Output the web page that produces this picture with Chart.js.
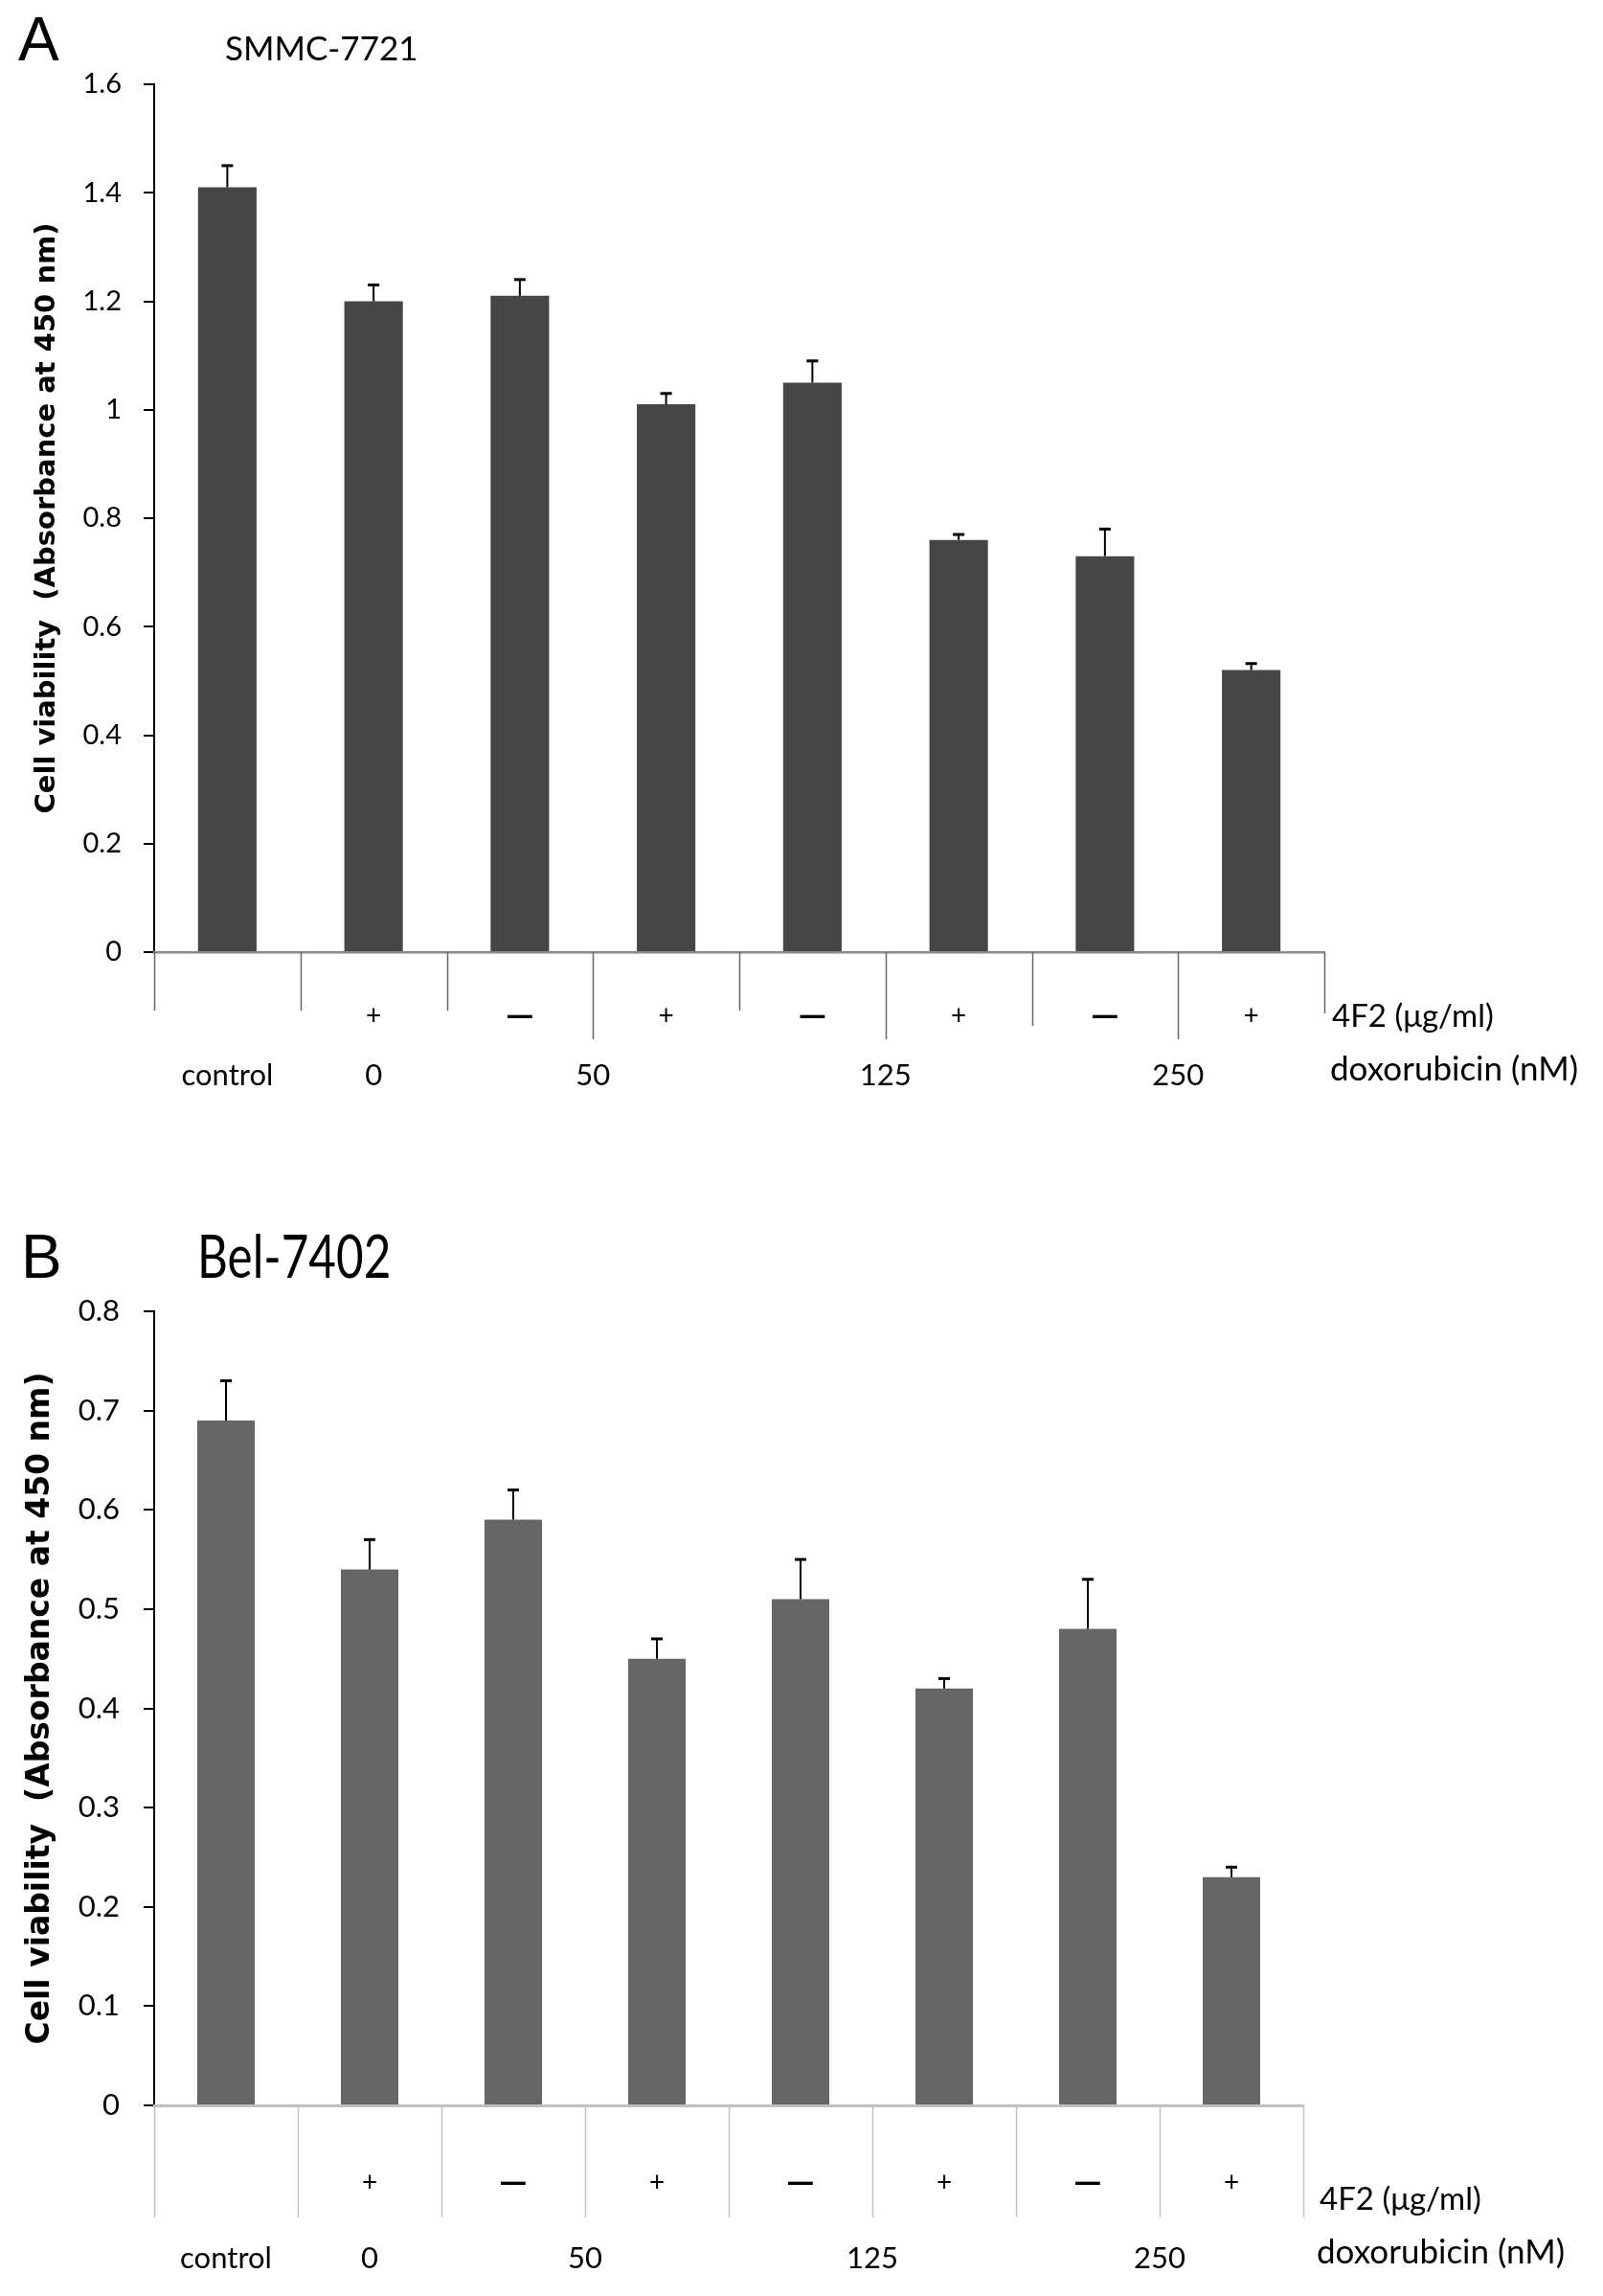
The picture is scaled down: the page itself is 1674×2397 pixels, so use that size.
<!DOCTYPE html>
<html>
<head>
<meta charset="utf-8">
<script src="https://cdn.jsdelivr.net/npm/chart.js@4.4.1/dist/chart.umd.min.js"></script>
<style>
  html, body { margin: 0; padding: 0; background: #fff; }
  body { width: 1674px; height: 2397px; position: relative; overflow: hidden; }
  .panel { position: absolute; left: 0; width: 1674px; }
  .panel canvas { position: absolute; left: 0; top: 0; }
  .txt { position: absolute; white-space: nowrap; line-height: 1; color: #000; }
  .letter { font-family: "Liberation Sans", Arial, sans-serif; font-size: 64px; }
  .lato { font-family: Lato, sans-serif; transform-origin: 0 0; }
</style>
</head>
<body>
<div class="panel" style="top:0;height:1200px">
  <canvas id="chartA" width="1674" height="1200" style="width:1674px;height:1200px"></canvas>
  <div class="txt letter" style="left:19px;top:9px">A</div>
  <div class="txt lato" style="left:235px;top:32px;font-size:35px">SMMC-7721</div>
  <div class="txt lato" style="left:1391px;top:1043px;font-size:33px">4F2 (μg/ml)</div>
  <div class="txt lato" style="left:1389px;top:1097px;font-size:35px">doxorubicin (nM)</div>
</div>
<div class="panel" style="top:1200px;height:1197px">
  <canvas id="chartB" width="1674" height="1197" style="width:1674px;height:1197px"></canvas>
  <div class="txt letter" style="left:22px;top:80px">B</div>
  <div class="txt lato" style="left:206px;top:80px;font-size:61px;transform:scaleX(0.81)">Bel-7402</div>
  <div class="txt lato" style="left:1378px;top:1078px;font-size:33px">4F2 (μg/ml)</div>
  <div class="txt lato" style="left:1375px;top:1132px;font-size:35px">doxorubicin (nM)</div>
</div>
<script>
// 4F2 treatment row and doxorubicin dose groups (category index spans)
const fourF2Signs = ['', '+', '—', '+', '—', '+', '—', '+'];
const doseLabels = ['control', '0', '50', '125', '250'];
const doseSpans = [[0, 0], [1, 1], [2, 3], [4, 5], [6, 7]];

// SMMC-7721 absorbance at 450 nm, mean and error
const smmcMeans = [1.41, 1.20, 1.21, 1.01, 1.05, 0.76, 0.73, 0.52];
const smmcErrors = [0.04, 0.03, 0.03, 0.02, 0.04, 0.01, 0.05, 0.012];
const smmcAxis = { max: 1.6, step: 0.2 };

// Bel-7402 absorbance at 450 nm, mean and error
const belMeans = [0.69, 0.54, 0.59, 0.45, 0.51, 0.42, 0.48, 0.23];
const belErrors = [0.04, 0.03, 0.03, 0.02, 0.04, 0.01, 0.05, 0.01];
const belAxis = { max: 0.8, step: 0.1 };

const yTitle = 'Cell viability  (Absorbance at 450 nm)';

const errorBarPlugin = {
  id: 'errorBars',
  afterDatasetsDraw(chart) {
    const { ctx } = chart;
    const y = chart.scales.y;
    chart.data.datasets.forEach((ds, di) => {
      chart.getDatasetMeta(di).data.forEach((bar, i) => {
        const top = y.getPixelForValue(ds.data[i] + ds.errors[i]);
        ctx.save();
        ctx.strokeStyle = '#000';
        ctx.lineWidth = 2;
        ctx.beginPath();
        ctx.moveTo(bar.x, bar.y);
        ctx.lineTo(bar.x, top);
        ctx.stroke();
        ctx.lineWidth = 3;
        ctx.beginPath();
        ctx.moveTo(bar.x - 6, top);
        ctx.lineTo(bar.x + 6, top);
        ctx.stroke();
        ctx.restore();
      });
    });
  }
};

// vertical separators under the category axis
const separatorPlugin = {
  id: 'separators',
  afterDraw(chart, args, opts) {
    const { ctx, chartArea } = chart;
    const x = chart.scales.x;
    const n = chart.data.labels.length;
    ctx.save();
    ctx.strokeStyle = opts.color;
    ctx.lineWidth = opts.width;
    for (let i = 0; i <= n; i++) {
      const px = Math.round(x.getPixelForValue(i - 0.5)) + 0.5;
      const len = Array.isArray(opts.lengths) ? opts.lengths[i] : opts.lengths;
      ctx.beginPath();
      ctx.moveTo(px, chartArea.bottom);
      ctx.lineTo(px, chartArea.bottom + len);
      ctx.stroke();
    }
    ctx.restore();
  }
};

function signFont(c) {
  if (fourF2Signs[c.index] === '+') return { family: 'Lato', size: 28 };
  return { family: 'Lato', size: 38, weight: 'bold', lineHeight: 33.6 / 38 };
}

function buildChart(id, means, errors, axis, o) {
  return new Chart(document.getElementById(id), {
    type: 'bar',
    data: {
      labels: fourF2Signs,
      datasets: [{
        data: means,
        errors: errors,
        backgroundColor: o.barColor,
        borderWidth: 0,
        barPercentage: 0.4,
        categoryPercentage: 1
      }]
    },
    options: {
      responsive: false,
      animation: false,
      devicePixelRatio: 1,
      layout: { padding: { left: 0, top: o.top, right: o.right, bottom: o.bottom } },
      plugins: {
        legend: { display: false },
        tooltip: { enabled: false },
        separators: o.separators
      },
      scales: {
        y: {
          min: 0,
          max: axis.max,
          afterFit: s => { s.width = 161; },
          ticks: {
            stepSize: axis.step,
            padding: o.yPad,
            color: '#000',
            font: { family: 'Lato', size: o.yFont },
            callback: v => String(parseFloat(Number(v).toFixed(2)))
          },
          grid: { drawOnChartArea: false, drawTicks: true, tickLength: 11, color: '#000', lineWidth: 2 },
          border: { display: true, color: '#000', width: 2 },
          title: {
            display: true,
            text: yTitle,
            color: '#000',
            font: { family: 'DejaVu Sans', weight: 'bold', size: o.titleFont },
            padding: { top: o.titlePad, bottom: 0 }
          }
        },
        x: {
          weight: 0,
          afterFit: s => { s.height = o.xHeight; },
          ticks: {
            autoSkip: false,
            maxRotation: 0,
            padding: o.signPad,
            color: '#000',
            font: signFont
          },
          grid: { display: false, drawTicks: false, tickLength: 0 },
          border: { display: true, color: o.axisColor, width: o.axisWidth }
        },
        x2: {
          type: 'linear',
          position: 'bottom',
          weight: 1,
          offset: false,
          bounds: 'data',
          min: 0,
          max: fourF2Signs.length,
          afterFit: s => { s.height = o.x2Height; },
          afterBuildTicks: s => { s.ticks = doseSpans.map(([a, b]) => ({ value: (a + b + 1) / 2 })); },
          ticks: {
            autoSkip: false,
            maxRotation: 0,
            padding: o.dosePad,
            color: '#000',
            font: { family: 'Lato', size: 31 },
            callback: (v, i) => doseLabels[i]
          },
          grid: { display: false, drawTicks: false, tickLength: 0, offset: false },
          border: { display: false }
        }
      }
    },
    plugins: [errorBarPlugin, separatorPlugin]
  });
}

buildChart('chartA', smmcMeans, smmcErrors, smmcAxis, {
  barColor: '#464646',
  top: 88, right: 291, bottom: 36,
  xHeight: 90, x2Height: 80,
  signPad: 50, dosePad: 20,
  yPad: 23, yFont: 29,
  titleFont: 29, titlePad: 32,
  axisColor: '#8a8a8a', axisWidth: 2.5,
  separators: { color: '#666', width: 1.5, lengths: [61, 61, 61, 91, 61, 91, 77, 91, 64] }
});

buildChart('chartB', belMeans, belErrors, belAxis, {
  barColor: '#666666',
  top: 169, right: 313, bottom: 19,
  xHeight: 100, x2Height: 80,
  signPad: 64, dosePad: 41,
  yPad: 25, yFont: 31,
  titleFont: 33, titlePad: 23,
  axisColor: '#c0c0c0', axisWidth: 3,
  separators: { color: '#c4c4c4', width: 1.5, lengths: 117 }
});
</script>
</body>
</html>
